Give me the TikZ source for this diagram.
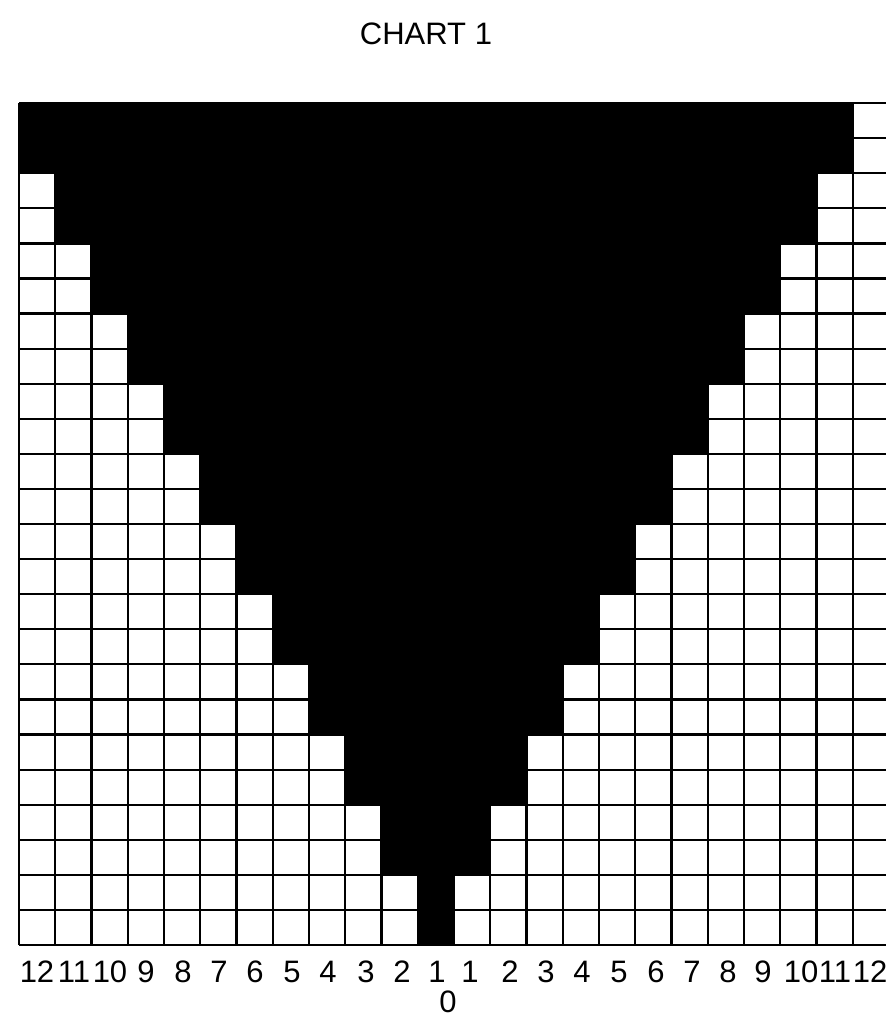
\documentclass[tikz,border=0pt]{standalone}
\usepackage{fontspec}
\setmainfont{Liberation Sans}
\begin{document}
\begin{tikzpicture}[x=0.5pt,y=-0.5pt,
		etiq/.style={anchor=base,inner sep=0pt,font=\fontsize{15.5}{18}\selectfont}]
				\useasboundingbox (0,0) rectangle (885,1016);
				%Titre du diagramme
				\node[etiq] (T) at (426,45) {CHART 1};
				%Zone noire et grille
				\begin{scope}[shift={(19,945)},x=18.125pt,y=17.54pt]
				\fill (0,24) -- (0,22) -- (1,22) -- (1,20) -- (2,20) -- (2,18) -- (3,18) -- (3,16)
					-- (4,16) -- (4,14) -- (5,14) -- (5,12) -- (6,12) -- (6,10) -- (7,10) -- (7,8)
					-- (8,8) -- (8,6) -- (9,6) -- (9,4) -- (10,4) -- (10,2) -- (11,2) -- (11,0)
					-- (12,0) -- (12,2) -- (13,2) -- (13,4) -- (14,4) -- (14,6) -- (15,6) -- (15,8)
					-- (16,8) -- (16,10) -- (17,10) -- (17,12) -- (18,12) -- (18,14) -- (19,14) -- (19,16)
					-- (20,16) -- (20,18) -- (21,18) -- (21,20) -- (22,20) -- (22,22) -- (23,22) -- (23,24) -- cycle;
				\draw[line width=1.1pt,xstep=18.125pt,ystep=17.54pt] (0,0) grid (24,24);
				\end{scope}
				%Etiquettes des colonnes
				\node[etiq] (G12) at (37,982) {12};
				\node[etiq] (G11) at (74,982) {11};
				\node[etiq] (G10) at (110,982) {10};
				\node[etiq] (G9) at (146,982) {9};
				\node[etiq] (G8) at (183,982) {8};
				\node[etiq] (G7) at (219,982) {7};
				\node[etiq] (G6) at (255,982) {6};
				\node[etiq] (G5) at (292,982) {5};
				\node[etiq] (G4) at (328,982) {4};
				\node[etiq] (G3) at (366,982) {3};
				\node[etiq] (G2) at (402,982) {2};
				\node[etiq] (G1) at (437,982) {1};
				\node[etiq] (D1) at (470,982) {1};
				\node[etiq] (D2) at (510,982) {2};
				\node[etiq] (D3) at (546,982) {3};
				\node[etiq] (D4) at (582,982) {4};
				\node[etiq] (D5) at (619,982) {5};
				\node[etiq] (D6) at (656,982) {6};
				\node[etiq] (D7) at (692,982) {7};
				\node[etiq] (D8) at (728,982) {8};
				\node[etiq] (D9) at (763,982) {9};
				\node[etiq] (D10) at (801,982) {10};
				\node[etiq] (D11) at (835,982) {11};
				\node[etiq] (D12) at (870,982) {12};
				\node[etiq] (Z) at (448,1012) {0};
\end{tikzpicture}
\end{document}
